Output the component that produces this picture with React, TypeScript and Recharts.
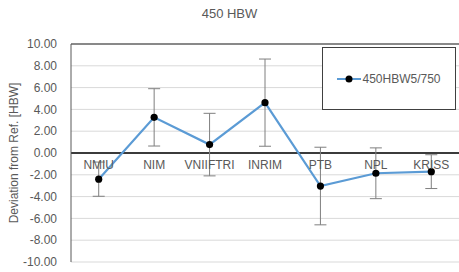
import { LineChart, Line, XAxis, YAxis, CartesianGrid, ReferenceLine, ErrorBar, LabelList, Label } from 'recharts';

const labs = ['NMIU', 'NIM', 'VNIIFTRI', 'INRIM', 'PTB', 'NPL', 'KRISS'];
const dev = [-2.4, 3.27, 0.77, 4.62, -3.03, -1.86, -1.71];
const unc = [1.57, 2.63, 2.87, 4.0, 3.56, 2.33, 1.55];
const yTicks = [-10, -8, -6, -4, -2, 0, 2, 4, 6, 8, 10];

const data = labs.map((name, i) => ({ name, dev: dev[i], unc: unc[i], zero: 0 }));

const font = 'Liberation Sans, Arial, sans-serif';

function LegendBox() {
  return (
    <div style={{ position: 'absolute', top: 47, left: 322, width: 134, height: 63, border: '1px solid #404040', boxSizing: 'border-box', background: '#fff', display: 'flex', alignItems: 'center', justifyContent: 'center', fontFamily: font, fontSize: 12, color: '#595959' }}>
      <svg width={24} height={10} style={{ marginRight: 1 }}>
        <line x1={0} y1={5} x2={24} y2={5} stroke="#5B9BD5" strokeWidth={2} />
        <circle cx={12} cy={5} r={3.5} fill="#000" />
      </svg>
      <span>450HBW5/750</span>
    </div>
  );
}

export default function App() {
  return (
    <div style={{ position: 'absolute', left: 0, top: 0, width: 459, height: 272, background: '#fff', fontFamily: font }}>
      <div style={{ position: 'absolute', top: 6, left: 0, width: 459, textAlign: 'center', fontSize: 13, color: '#595959' }}>450 HBW</div>
      <LineChart width={459} height={272} data={data} margin={{ top: 44, right: 0, bottom: 10, left: 0 }}>
        <CartesianGrid horizontal vertical={false} stroke="#d9d9d9" />
        <XAxis dataKey="name" scale="band" height={0} tick={false} tickLine={false} axisLine={{ stroke: '#595959' }} />
        <YAxis domain={[-10, 10]} ticks={yTicks} interval={0} width={71} tickLine={false} tickMargin={8} tickFormatter={(v: number) => v.toFixed(2)} tick={{ fill: '#595959', fontSize: 12 }} axisLine={{ stroke: '#595959' }}>
          <Label value="Deviation from Ref. [HBW]" angle={-90} position="insideLeft" offset={14} style={{ textAnchor: 'middle', fill: '#595959', fontSize: 12 }} />
        </YAxis>
        <ReferenceLine y={10} stroke="#262626" />
        <ReferenceLine y={0} stroke="#000" strokeWidth={1.3} />
        <Line dataKey="zero" stroke="none" dot={false} legendType="none" isAnimationActive={false}>
          <LabelList dataKey="name" position="bottom" offset={7} style={{ fill: '#595959', fontSize: 12 }} />
        </Line>
        <Line dataKey="dev" name="450HBW5/750" stroke="#5B9BD5" strokeWidth={2.2} dot={{ r: 3.6, fill: '#000', stroke: 'none' }} isAnimationActive={false}>
          <ErrorBar dataKey="unc" direction="y" width={6} stroke="#7f7f7f" strokeWidth={1} />
        </Line>
      </LineChart>
      <LegendBox />
    </div>
  );
}
